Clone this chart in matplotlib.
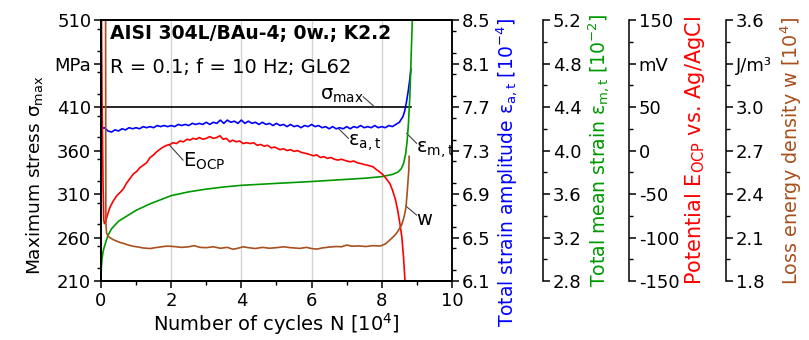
import numpy as np
import matplotlib
matplotlib.use("Agg")
import matplotlib.pyplot as plt
from matplotlib.ticker import MultipleLocator, FixedLocator, FixedFormatter

plt.rcParams['font.family'] = ['DejaVu Sans']
plt.rcParams['mathtext.default'] = 'regular'

# --- data ---
# maximum stress, MPa
n_smax = [0.0, 8.82]
s_max = [410, 410]

# total strain amplitude [1e-4]
n_blue = list(np.round(np.arange(0, 8.51, 0.1), 2)) + [8.6, 8.65, 8.7, 8.75, 8.8, 8.83]
eps_a = [7.50, 7.51, 7.48, 7.47, 7.49, 7.48, 7.50, 7.49, 7.51, 7.50,
         7.51, 7.50, 7.52, 7.51, 7.52, 7.51, 7.53, 7.52, 7.53, 7.52,
         7.53, 7.52, 7.54, 7.53, 7.54, 7.53, 7.55, 7.54, 7.55, 7.54,
         7.56, 7.54, 7.56, 7.55, 7.58, 7.55, 7.58, 7.56, 7.57, 7.55,
         7.58, 7.55, 7.57, 7.55, 7.56, 7.54, 7.56, 7.54, 7.55, 7.53,
         7.55, 7.53, 7.54, 7.52, 7.54, 7.52, 7.53, 7.51, 7.53, 7.52,
         7.54, 7.52, 7.53, 7.51, 7.52, 7.50, 7.52, 7.50, 7.51, 7.50,
         7.52, 7.50, 7.52, 7.51, 7.53, 7.51, 7.52, 7.51, 7.53, 7.51,
         7.52, 7.51, 7.53, 7.52, 7.54, 7.56,
         7.61, 7.66, 7.74, 7.84, 7.96, 8.05]

# total mean strain [1e-2]
n_green = [0.0, 0.01, 0.03, 0.06, 0.1, 0.2, 0.3, 0.5, 0.75, 1.0, 1.4, 2.0, 2.5, 3.0,
           3.5, 4.0, 5.0, 6.0, 7.0, 7.5, 8.0, 8.3, 8.45, 8.55, 8.62, 8.68, 8.72,
           8.76, 8.8, 8.83, 8.86, 8.88]
eps_m = [2.80, 2.92, 3.00, 3.07, 3.12, 3.22, 3.28, 3.35, 3.40, 3.45, 3.51, 3.585, 3.62, 3.645,
         3.665, 3.68, 3.698, 3.715, 3.735, 3.745, 3.76, 3.78, 3.80, 3.83, 3.88, 3.97, 4.08,
         4.25, 4.5, 4.8, 5.1, 5.3]

# open circuit potential, mV
n_red = [0.0, 0.03, 0.06, 0.08, 0.1, 0.13, 0.2, 0.26, 0.35, 0.45, 0.55, 0.64, 0.72, 0.83,
         0.92, 1.02, 1.1, 1.2, 1.3, 1.4, 1.5, 1.6, 1.7, 1.77, 1.87, 1.97, 2.05, 2.15,
         2.25, 2.35, 2.45, 2.54, 2.62, 2.72, 2.8, 2.9, 3.0, 3.1, 3.2, 3.3, 3.39, 3.48,
         3.57, 3.67, 3.75, 3.85, 3.95, 4.05, 4.15, 4.25, 4.35, 4.45, 4.55, 4.65, 4.75,
         4.85, 4.95, 5.1, 5.2, 5.3, 5.4, 5.5, 5.6, 5.7, 5.8, 5.9, 6.05, 6.15, 6.25,
         6.35, 6.45, 6.55, 6.65, 6.75, 6.85, 7.0, 7.1, 7.2, 7.3, 7.4, 7.5, 7.6, 7.7,
         7.76, 7.85, 7.95, 8.04, 8.14, 8.23, 8.3, 8.38, 8.45, 8.52, 8.57, 8.62, 8.66, 8.7]
e_ocp = [250, 60, -40, -80, -84, -82, -72, -65, -58, -52, -48, -44, -38, -32,
         -27, -24, -20, -17, -14, -8, -5, -1, 2, 4, 6, 7, 9, 8,
         11, 10, 13, 12, 14, 13, 15, 13, 14, 16, 14, 15, 17, 13,
         14, 10, 12, 10, 11, 8, 9, 8, 9, 6, 7, 5, 6,
         3, 4, 1, 2, 0, 1, -1, 0, -2, -3, -4, -6, -5, -8,
         -7, -9, -8, -10, -11, -10, -12, -13, -12, -14, -15, -16, -17, -18,
         -19, -22, -25, -28, -33, -38, -45, -55, -68, -85, -99, -123, -149, -175]

# loss energy density [1e4 J/m^3]
n_brown = [0.0, 0.13, 0.14, 0.16, 0.2, 0.25, 0.35, 0.45, 0.55, 0.64, 0.75, 0.91, 1.05,
           1.2, 1.4, 1.55, 1.7, 1.85, 1.97, 2.15, 2.3, 2.5, 2.65, 2.82, 3.0, 3.2, 3.4,
           3.6, 3.76, 3.9, 4.05, 4.2, 4.4, 4.6, 4.8, 5.0, 5.2, 5.4, 5.67, 5.85, 6.0,
           6.15, 6.3, 6.5, 6.7, 6.85, 7.0, 7.15, 7.35, 7.55, 7.75, 7.95, 8.1, 8.23,
           8.35, 8.42, 8.5, 8.57, 8.61, 8.66, 8.69, 8.71, 8.73, 8.75, 8.77, 8.78]
w_loss = [4.0, 4.0, 2.2, 2.13, 2.11, 2.10, 2.085, 2.075, 2.065, 2.06, 2.05, 2.04, 2.035,
          2.028, 2.024, 2.03, 2.035, 2.04, 2.04, 2.036, 2.032, 2.036, 2.044, 2.032, 2.03, 2.036, 2.026,
          2.032, 2.019, 2.026, 2.036, 2.03, 2.024, 2.032, 2.026, 2.03, 2.036, 2.03, 2.025, 2.032, 2.024,
          2.02, 2.028, 2.034, 2.038, 2.036, 2.048, 2.04, 2.042, 2.038, 2.044, 2.041, 2.055, 2.083,
          2.11, 2.129, 2.16, 2.19, 2.22, 2.27, 2.31, 2.37, 2.43, 2.50, 2.565, 2.66]

BLUE = '#0000ff'
GREEN = '#009900'
RED = '#ff0000'
BROWN = '#a8501e'
TICK_FS = 13
LAB_FS = 14

fig = plt.figure(figsize=(8.09, 3.40), dpi=100)
ax = fig.add_axes([0.1248, 0.1735, 0.4339, 0.7675])

ax_a = ax.twinx()
ax_m = ax.twinx()
ax_e = ax.twinx()
ax_w = ax.twinx()
ax_m.spines['right'].set_position(('axes', 1.259))
ax_e.spines['right'].set_position(('axes', 1.504))
ax_w.spines['right'].set_position(('axes', 1.78))

# grid
for g in [2, 4, 6, 8]:
    ax.axvline(g, color='#d4d4d4', lw=1.0, zorder=0)

ax.plot(n_smax, s_max, color='black', lw=1.2)
ax_a.plot(n_blue, eps_a, color=BLUE, lw=1.2)
ax_m.plot(n_green, eps_m, color=GREEN, lw=1.2)
ax_e.plot(n_red, e_ocp, color=RED, lw=1.2)
ax_w.plot(n_brown, w_loss, color=BROWN, lw=1.2)

ax.set_xlim(0, 10)
ax.set_ylim(210, 510)
ax_a.set_ylim(6.1, 8.5)
ax_m.set_ylim(2.8, 5.2)
ax_e.set_ylim(-150, 150)
ax_w.set_ylim(1.8, 3.6)

ax.xaxis.set_major_locator(MultipleLocator(2))
ax.xaxis.set_minor_locator(MultipleLocator(1))

ax.yaxis.set_major_locator(FixedLocator([210, 260, 310, 360, 410, 460, 510]))
ax.yaxis.set_major_formatter(FixedFormatter(['210', '260', '310', '360', '410', 'MPa', '510']))
ax.yaxis.set_minor_locator(MultipleLocator(25))

ax_a.yaxis.set_major_locator(FixedLocator([6.1, 6.5, 6.9, 7.3, 7.7, 8.1, 8.5]))
ax_a.yaxis.set_major_formatter(FixedFormatter(['6.1', '6.5', '6.9', '7.3', '7.7', '8.1', '8.5']))
ax_a.yaxis.set_minor_locator(MultipleLocator(0.2))

ax_m.yaxis.set_major_locator(FixedLocator([2.8, 3.2, 3.6, 4.0, 4.4, 4.8, 5.2]))
ax_m.yaxis.set_major_formatter(FixedFormatter(['2.8', '3.2', '3.6', '4.0', '4.4', '4.8', '5.2']))
ax_m.yaxis.set_minor_locator(MultipleLocator(0.2))

ax_e.yaxis.set_major_locator(FixedLocator([-150, -100, -50, 0, 50, 100, 150]))
ax_e.yaxis.set_major_formatter(FixedFormatter(['-150', '-100', '-50', '0', '50', 'mV', '150']))
ax_e.yaxis.set_minor_locator(MultipleLocator(25))

ax_w.yaxis.set_major_locator(FixedLocator([1.8, 2.1, 2.4, 2.7, 3.0, 3.3, 3.6]))
ax_w.yaxis.set_major_formatter(FixedFormatter(['1.8', '2.1', '2.4', '2.7', '3.0', 'J/m³', '3.6']))
ax_w.yaxis.set_minor_locator(MultipleLocator(0.15))

for a in [ax, ax_a, ax_m, ax_e, ax_w]:
    a.tick_params(which='major', direction='out', length=5, width=1.1, labelsize=TICK_FS, pad=2)
    a.tick_params(which='minor', direction='out', length=3, width=1.0)
    for s in a.spines.values():
        s.set_linewidth(1.1)
ax.tick_params(axis='x', pad=3)

ax.set_xlabel('Number of cycles N [10$^{4}$]', fontsize=LAB_FS, labelpad=1)
ax.set_ylabel('Maximum stress $\\sigma_{max}$', fontsize=13.3, labelpad=7)
ax.yaxis.label.set_y(0.405)
ax_a.set_ylabel('Total strain amplitude $\\epsilon_{a,t}$ [10$^{-4}$]', fontsize=13.5, color=BLUE, labelpad=3)
ax_a.yaxis.label.set_y(0.415)
ax_m.set_ylabel('Total mean strain $\\epsilon_{m,t}$ [10$^{-2}$]', fontsize=13.6, color=GREEN, labelpad=4)
ax_e.set_ylabel('Potential E$_{OCP}$ vs. Ag/AgCl', fontsize=15, color=RED, labelpad=3)
ax_w.set_ylabel('Loss energy density w [10$^{4}$]', fontsize=13.8, color=BROWN, labelpad=5)

ax.text(0.026, 0.95, 'AISI 304L/BAu-4; 0w.; K2.2', transform=ax.transAxes,
        fontsize=13.5, fontweight='bold', ha='left', va='center')
ax.text(0.026, 0.82, 'R = 0.1; f = 10 Hz; GL62', transform=ax.transAxes,
        fontsize=14, ha='left', va='center')

# curve labels with leader lines (host axes, MPa scale)
lead = dict(color='#404040', lw=0.8)
ax.plot([7.47, 7.81], [421.8, 409.7], **lead)
ax.text(6.25, 423, '$\\sigma_{max}$', fontsize=14, ha='left', va='center')
ax.plot([6.76, 7.05], [385.5, 374], **lead)
ax.text(7.03, 369, '$\\epsilon_{a,t}$', fontsize=14, ha='left', va='center')
ax.plot([8.71, 8.99], [379.8, 368.3], **lead)
ax.text(8.97, 361, '$\\epsilon_{m,t}$', fontsize=14, ha='left', va='center')
ax.plot([8.69, 8.99], [296, 285.9], **lead)
ax.text(8.97, 281, 'w', fontsize=14, ha='left', va='center')
ax.plot([1.95, 2.34], [366.3, 349], **lead)
ax.text(2.33, 348, 'E$_{OCP}$', fontsize=14, ha='left', va='center')

fig.savefig('out.png', dpi=100)
